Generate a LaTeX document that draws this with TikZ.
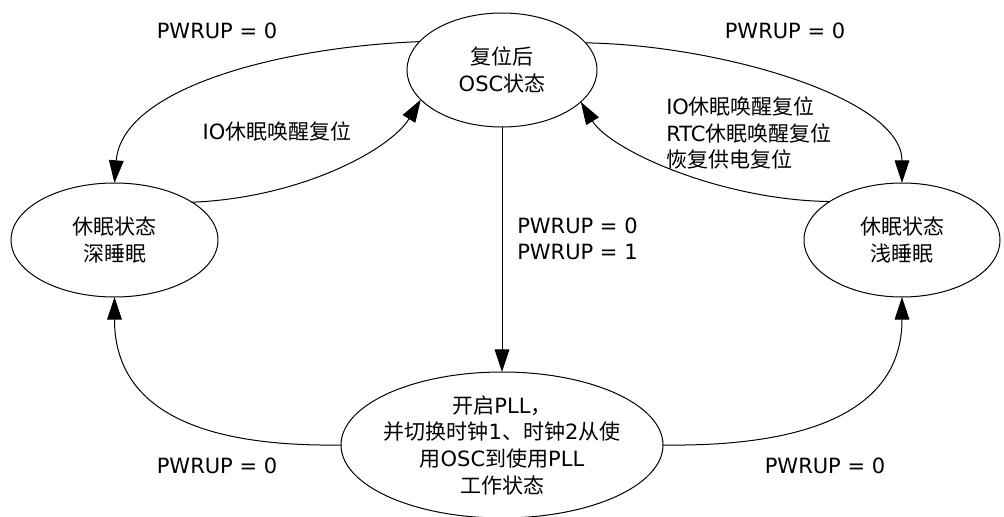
\documentclass[tikz,border=0pt]{standalone}
\usepackage{fontspec}
\setmainfont{DejaVu Sans}
\newfontfamily\cjk{Noto Sans CJK SC}
\newcommand\zh[1]{{\cjk #1}}
\usetikzlibrary{shapes.geometric,arrows.meta}
\begin{document}
\begin{tikzpicture}[x=0.75pt,y=-0.75pt,
  every node/.style={font=\fontsize{15.75}{20}\selectfont},
  state/.style={draw, ellipse, line width=0.75pt, inner sep=0pt, outer sep=0pt},
  arr/.style={draw, line width=0.75pt, -{Triangle[length=17pt,width=11pt]}},
  lbl/.style={inner sep=0pt}]
\useasboundingbox (0,0) rectangle (1004,517);
\node[state, minimum width=142.5pt, minimum height=85.5pt,
  label={[lbl,align=center]center:{\zh{复位后}\\OSC\zh{状态}}}] (osc) at (502,70) {};
\node[state, minimum width=155.25pt, minimum height=85.5pt,
  label={[lbl,align=center]center:{\zh{休眠状态}\\\zh{深睡眠}}}] (deep) at (114.5,240) {};
\node[state, minimum width=147pt, minimum height=85.5pt,
  label={[lbl,align=center]center:{\zh{休眠状态}\\\zh{浅睡眠}}}] (light) at (902,240) {};
\node[state, minimum width=241.5pt, minimum height=109.5pt,
  label={[lbl,align=center]center:{\zh{开启}PLL\zh{，}\\\zh{并切换时钟}1\zh{、时钟}2\zh{从使}\\\zh{用}OSC\zh{到使用}PLL\\\zh{工作状态}}}] (work) at (502,445) {};

\draw[arr] (osc.161.8) .. controls (280,47) and (122,88) .. (deep.north);
\draw[arr] (deep.26) .. controls (300,198) and (390,150) .. (osc.200);
\draw[arr] (osc.18.2) .. controls (720,45) and (902,98) .. (light.north);
\draw[arr] (light.152) .. controls (720,200) and (610,150) .. (osc.338);
\draw[arr] (osc.south) -- (work.north);
\draw[arr] (work.west) .. controls (200,447) and (114.5,410) .. (deep.south);
\draw[arr] (work.east) .. controls (810,447) and (902,410) .. (light.south);

\node[lbl] (p1) at (217,30.5) {PWRUP = 0};
\node[lbl] (p2) at (785,30.5) {PWRUP = 0};
\node[lbl] (p3) at (217,466) {PWRUP = 0};
\node[lbl] (p4) at (825,466) {PWRUP = 0};
\node[lbl] (io) at (277,131) {IO\zh{休眠唤醒复位}};
\node[lbl, anchor=west, align=left] (wake) at (666,133) {IO\zh{休眠唤醒复位}\\RTC\zh{休眠唤醒复位}\\\zh{恢复供电复位}};
\node[lbl, anchor=west, align=left] (pw) at (517,239) {PWRUP = 0\\PWRUP = 1};
\end{tikzpicture}
\end{document}
